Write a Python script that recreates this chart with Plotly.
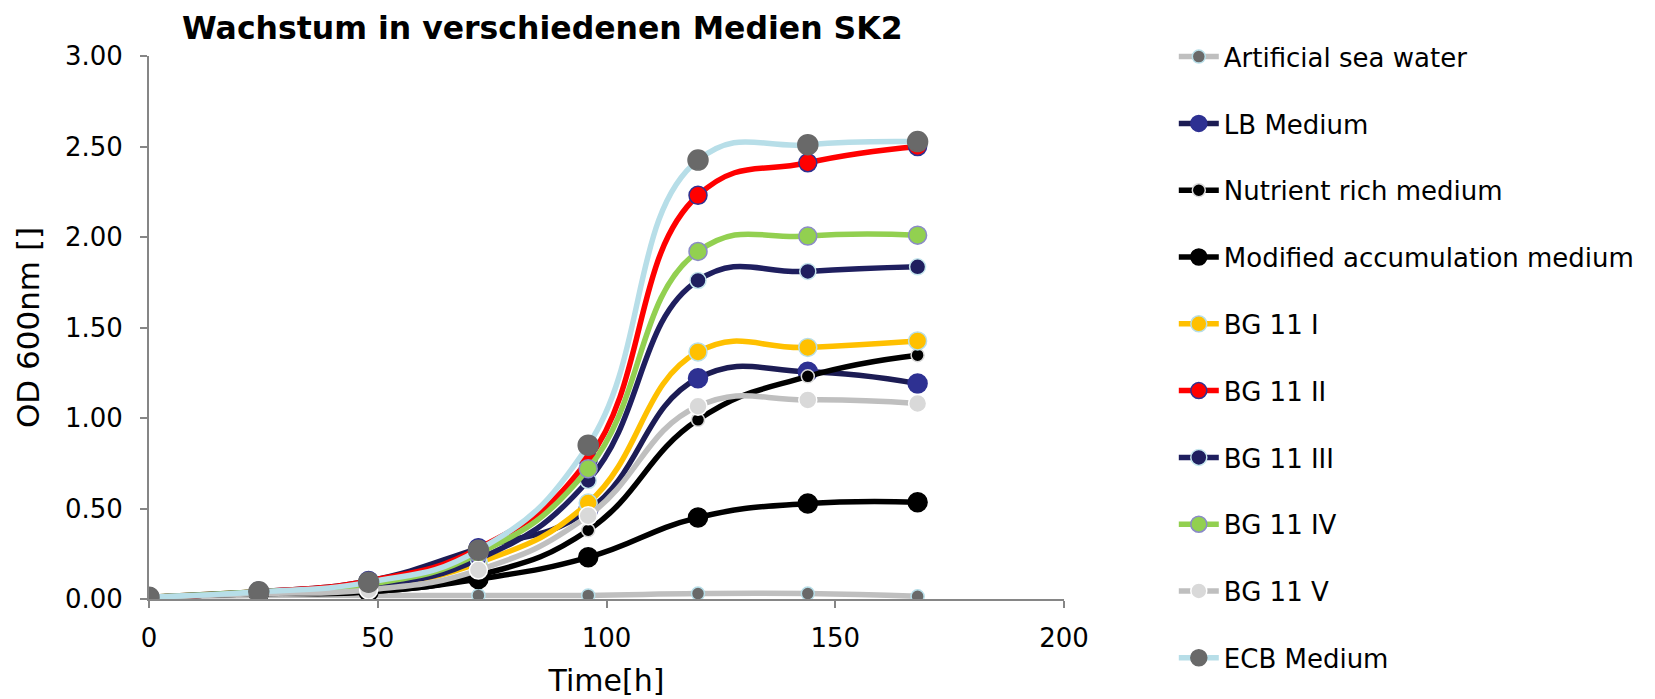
import plotly.graph_objects as go

time_h = [0, 24, 48, 72, 96, 120, 144, 168]

series_names = [
    "Artificial sea water", "LB Medium", "Nutrient rich medium",
    "Modified accumulation medium", "BG 11 I", "BG 11 II", "BG 11 III",
    "BG 11 IV", "BG 11 V", "ECB Medium",
]

artificial_sea_water = [0.01, 0.02, 0.02, 0.02, 0.02, 0.03, 0.03, 0.015]
lb_medium = [0.01, 0.04, 0.10, 0.28, 0.49, 1.22, 1.255, 1.19]
nutrient_rich = [0.01, 0.03, 0.04, 0.13, 0.38, 0.99, 1.23, 1.347]
modified_accumulation = [0.01, 0.03, 0.04, 0.11, 0.23, 0.45, 0.527, 0.535]
bg11_i = [0.01, 0.04, 0.07, 0.20, 0.53, 1.365, 1.39, 1.426]
bg11_ii = [0.01, 0.04, 0.10, 0.28, 0.77, 2.23, 2.41, 2.50]
bg11_iii = [0.01, 0.04, 0.07, 0.22, 0.655, 1.76, 1.81, 1.835]
bg11_iv = [0.01, 0.04, 0.08, 0.25, 0.72, 1.92, 2.005, 2.01]
bg11_v = [0.01, 0.03, 0.05, 0.16, 0.46, 1.065, 1.10, 1.08]
ecb_medium = [0.01, 0.04, 0.093, 0.27, 0.85, 2.425, 2.51, 2.527]

values = [artificial_sea_water, lb_medium, nutrient_rich, modified_accumulation,
          bg11_i, bg11_ii, bg11_iii, bg11_iv, bg11_v, ecb_medium]

# style: line color, marker fill, marker outline, marker size
styles = [
    ("#BFBFBF", "#696969", "#B7DEE8", 13),
    ("#1C1C54", "#2E3192", "#2E3192", 19),
    ("#000000", "#000000", "#D9D9D9", 13),
    ("#000000", "#000000", "#000000", 19),
    ("#FFC000", "#FFC000", "#B7DEE8", 18),
    ("#FF0000", "#FF0000", "#2E3192", 18),
    ("#1F1F5F", "#1F1F5F", "#C6E7EE", 16),
    ("#92D050", "#92D050", "#8A8AC8", 18),
    ("#BFBFBF", "#D9D9D9", "#FFFFFF", 18),
    ("#B7DEE8", "#696969", "#696969", 20),
]

fig = go.Figure()
for i, (name, vals, st) in enumerate(zip(series_names, values, styles)):
    lc, mf, mo, ms = st
    fig.add_trace(go.Scatter(
        x=time_h, y=vals, name=name, mode="lines+markers",
        line=dict(color=lc, width=5.5, shape="spline", smoothing=1.3),
        marker=dict(color=mf, size=ms, line=dict(color=mo, width=1.5)),
        legendgroup=f"g{i}",
    ))

font_family = "DejaVu Sans, Verdana, sans-serif"
fig.update_layout(
    width=1655, height=699,
    margin=dict(l=149, r=591, t=56, b=100, autoexpand=False),
    paper_bgcolor="white", plot_bgcolor="white",
    font=dict(family=font_family, size=26, color="#000000"),
    showlegend=True,
    legend=dict(
        x=1.12, y=1.042, xanchor="left", yanchor="top",
        traceorder="grouped", tracegroupgap=30,
        font=dict(size=26, family=font_family),
        itemwidth=40, maxheight=2000,
    ),
    annotations=[dict(
        text="<b>Wachstum in verschiedenen Medien SK2</b>",
        xref="paper", yref="paper", x=0.43, y=1 + 28 / 543,
        xanchor="center", yanchor="middle", showarrow=False,
        font=dict(size=31.5, family=font_family, color="#000000"),
    )],
)
fig.update_xaxes(
    range=[0, 200], tickvals=[0, 50, 100, 150, 200], automargin=False,
    showgrid=False, zeroline=False, showline=True, linecolor="#868686", linewidth=2,
    ticks="outside", ticklen=7, tickcolor="#868686", tickwidth=2,
    ticklabelstandoff=8,
    title=dict(text="Time[h]", standoff=18, font=dict(size=30)),
    tickfont=dict(size=26),
)
fig.update_yaxes(
    range=[0, 3], tickvals=[0, 0.5, 1.0, 1.5, 2.0, 2.5, 3.0], tickformat=".2f",
    automargin=False,
    showgrid=False, zeroline=False, showline=True, linecolor="#868686", linewidth=2,
    ticks="outside", ticklen=7, tickcolor="#868686", tickwidth=2,
    ticklabelstandoff=12,
    title=dict(text="OD 600nm []", standoff=16, font=dict(size=31)),
    tickfont=dict(size=26),
)
fig.write_html("out.html")
